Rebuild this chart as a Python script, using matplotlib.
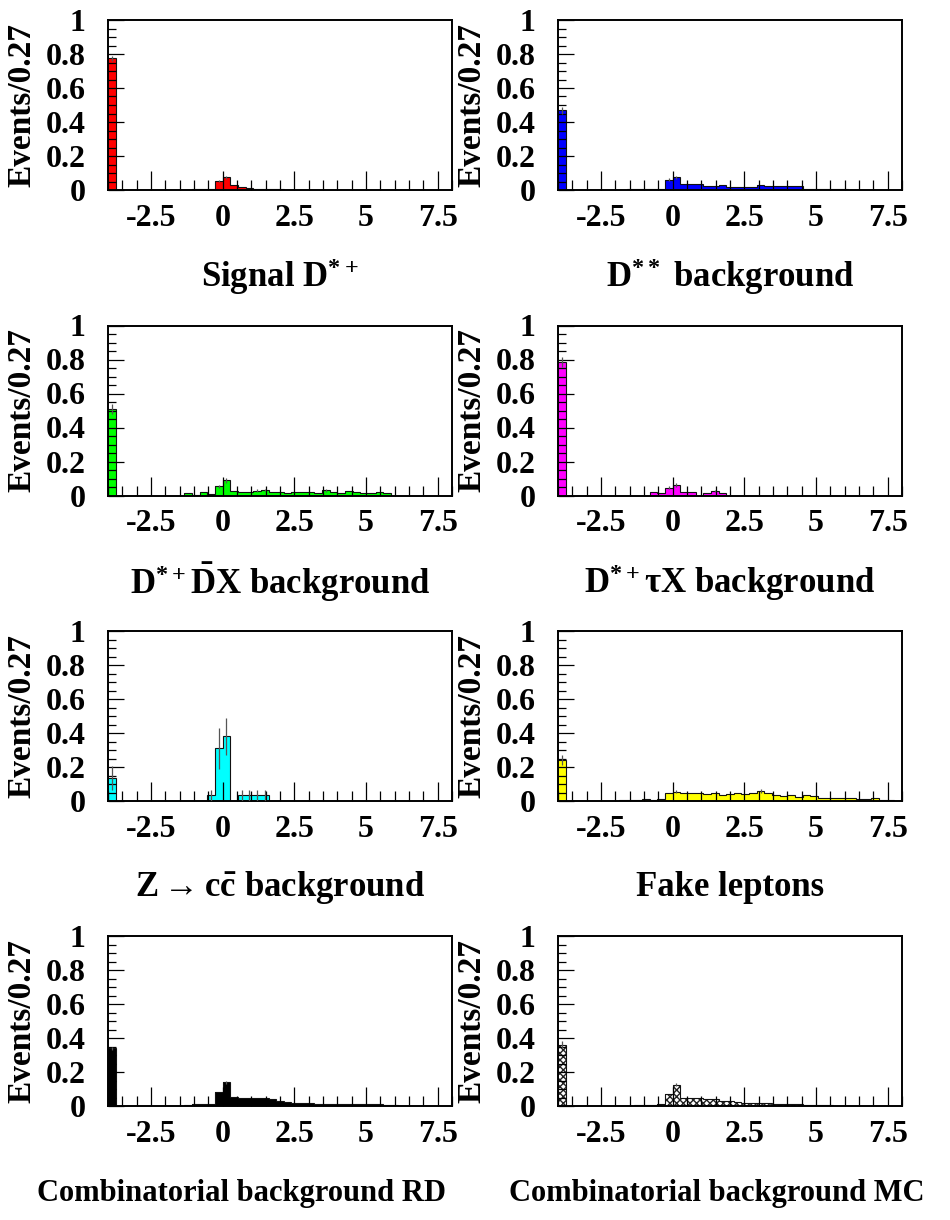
import numpy as np
import matplotlib
matplotlib.use("Agg")
import matplotlib.pyplot as plt
from matplotlib.ticker import MultipleLocator, FuncFormatter

plt.rcParams["font.family"] = ["Liberation Serif", "DejaVu Serif"]
plt.rcParams["font.weight"] = "bold"
plt.rcParams["mathtext.fontset"] = "custom"
plt.rcParams["mathtext.rm"] = "Liberation Serif:bold"
plt.rcParams["mathtext.it"] = "Liberation Serif:bold"
plt.rcParams["mathtext.bf"] = "Liberation Serif:bold"
plt.rcParams["axes.unicode_minus"] = False

# 45 bins from -4 to 8 (width 0.27)
X_MIN, X_MAX, N_BINS = -4.0, 8.0, 45

SIGNAL = [0.775, 0, 0, 0, 0, 0, 0, 0, 0, 0,
          0, 0.003, 0.004, 0.005, 0.053, 0.075, 0.027, 0.018, 0.012, 0.006,
          0.005, 0.003, 0.003, 0, 0, 0, 0, 0, 0, 0,
          0, 0, 0, 0, 0, 0, 0, 0, 0, 0,
          0, 0, 0, 0, 0]
DSS = [0.47, 0, 0, 0, 0, 0, 0, 0, 0.002, 0.003,
       0.004, 0.004, 0.004, 0.005, 0.06, 0.075, 0.034, 0.033, 0.033, 0.026,
       0.025, 0.029, 0.018, 0.018, 0.018, 0.02, 0.027, 0.022, 0.022, 0.022,
       0.022, 0.022, 0.008, 0.006, 0.006, 0.005, 0.004, 0.003, 0.002, 0,
       0, 0, 0, 0, 0]
DDX = [0.51, 0, 0, 0, 0, 0, 0, 0, 0, 0,
       0.012, 0.004, 0.018, 0.008, 0.053, 0.09, 0.024, 0.022, 0.018, 0.029,
       0.033, 0.018, 0.022, 0.016, 0.018, 0.022, 0.018, 0.012, 0.031, 0.022,
       0.014, 0.024, 0.018, 0.014, 0.012, 0.018, 0.012, 0, 0, 0,
       0, 0, 0, 0, 0]
TAUX = [0.785, 0, 0, 0, 0, 0, 0, 0, 0, 0,
        0, 0, 0.02, 0.012, 0.047, 0.063, 0.02, 0.02, 0, 0.012,
        0.027, 0.012, 0, 0, 0, 0, 0, 0, 0, 0,
        0, 0, 0, 0, 0, 0, 0, 0, 0, 0,
        0, 0, 0, 0, 0]
ZCC = [0.135, 0, 0, 0, 0, 0, 0, 0, 0, 0,
       0, 0, 0, 0.033, 0.31, 0.38, 0, 0.033, 0.033, 0.033,
       0.033, 0, 0, 0, 0, 0, 0, 0, 0, 0,
       0, 0, 0, 0, 0, 0, 0, 0, 0, 0,
       0, 0, 0, 0, 0]
FAKE = [0.24, 0, 0, 0, 0, 0, 0, 0, 0.003, 0.005,
        0.008, 0.01, 0.008, 0.01, 0.05, 0.055, 0.05, 0.05, 0.045, 0.04,
        0.05, 0.035, 0.04, 0.045, 0.04, 0.045, 0.06, 0.045, 0.035, 0.03,
        0.035, 0.025, 0.035, 0.03, 0.02, 0.015, 0.02, 0.015, 0.015, 0.01,
        0.01, 0.015, 0.008, 0.005, 0]
COMB_RD = [0.34, 0, 0, 0, 0, 0, 0, 0, 0, 0,
           0.008, 0.01, 0.01, 0.01, 0.085, 0.14, 0.052, 0.05, 0.05, 0.048,
           0.045, 0.04, 0.03, 0.025, 0.02, 0.015, 0.015, 0.014, 0.013, 0.012,
           0.012, 0.012, 0.012, 0.012, 0.01, 0.01, 0.008, 0.003, 0, 0,
           0, 0, 0, 0, 0]
COMB_MC = [0.36, 0, 0, 0, 0, 0, 0, 0, 0, 0,
           0.004, 0.006, 0.008, 0.01, 0.07, 0.125, 0.05, 0.045, 0.048, 0.042,
           0.04, 0.032, 0.028, 0.022, 0.02, 0.018, 0.015, 0.015, 0.013, 0.012,
           0.01, 0.01, 0.008, 0.008, 0.006, 0.004, 0, 0, 0, 0,
           0, 0, 0, 0, 0]

# errors on the visible bins {bin index: error}
SIGNAL_ERR = {0: 0.015, 14: 0.008, 15: 0.01}
DSS_ERR = {0: 0.02, 14: 0.008, 15: 0.01}
DDX_ERR = {0: 0.03, 14: 0.01, 15: 0.015, 19: 0.008, 20: 0.008, 28: 0.008}
TAUX_ERR = {0: 0.03, 14: 0.01, 15: 0.012, 20: 0.008}
ZCC_ERR = {0: 0.07, 13: 0.033, 14: 0.12, 15: 0.11, 17: 0.033, 18: 0.033,
           19: 0.033, 20: 0.033}
FAKE_ERR = {0: 0.03, 15: 0.01, 26: 0.01}
COMB_RD_ERR = {0: 0.01, 15: 0.008}
COMB_MC_ERR = {0: 0.02, 15: 0.01}

TITLES = [
    r"Signal D$^{*+}$",
    r"D$^{**}$ background",
    r"D$^{*+}\bar{\mathrm{D}}$X background",
    r"D$^{*+}\tau$X background",
    r"Z$\rightarrow$c$\bar{\mathrm{c}}$ background",
    "Fake leptons",
    "Combinatorial background RD",
    "Combinatorial background MC",
]
SERIES = [SIGNAL, DSS, DDX, TAUX, ZCC, FAKE, COMB_RD, COMB_MC]
ERRORS = [SIGNAL_ERR, DSS_ERR, DDX_ERR, TAUX_ERR, ZCC_ERR, FAKE_ERR,
          COMB_RD_ERR, COMB_MC_ERR]
COLORS = ["#ff0000", "#0000ff", "#00ff00", "#ff00ff", "#00ffff", "#ffff00",
          "#000000", "white"]

W, H = 950, 1220
fig = plt.figure(figsize=(W / 100, H / 100), dpi=100)

edges = np.linspace(X_MIN, X_MAX, N_BINS + 1)
centers = 0.5 * (edges[:-1] + edges[1:])

ax_left_px = [108, 558]
ax_top_px = [20, 325.5, 631, 936]
ax_w_px, ax_h_px = 344, 170

fmt = FuncFormatter(lambda v, p: "%g" % round(v, 3))

for k, (vals, errs, color, title) in enumerate(zip(SERIES, ERRORS, COLORS, TITLES)):
    row, col = divmod(k, 2)
    left = ax_left_px[col] / W
    bottom = 1 - (ax_top_px[row] + ax_h_px) / H
    ax = fig.add_axes([left, bottom, ax_w_px / W, ax_h_px / H])

    vals = np.array(vals)
    if k == 7:
        ax.stairs(vals, edges, fill=True, facecolor="white", edgecolor="#222222",
                  hatch="xxxxx", linewidth=0)
    else:
        ax.stairs(vals, edges, fill=True, color=color, linewidth=0)
    ax.stairs(vals, edges, color="#111111", linewidth=0.8, baseline=None)
    for i, e in errs.items():
        ax.vlines(centers[i], vals[i] - e, vals[i] + e, color="#555555",
                  linewidth=0.9, zorder=3)

    ax.set_xlim(X_MIN, X_MAX)
    ax.set_ylim(0, 1)
    ax.xaxis.set_major_locator(MultipleLocator(2.5))
    ax.xaxis.set_minor_locator(MultipleLocator(0.5))
    ax.yaxis.set_major_locator(MultipleLocator(0.2))
    ax.yaxis.set_minor_locator(MultipleLocator(0.05))
    ax.xaxis.set_major_formatter(fmt)
    ax.yaxis.set_major_formatter(fmt)
    ax.tick_params(which="both", direction="in", top=False, right=False,
                   width=0.9, labelsize=23)
    ax.tick_params(axis="x", which="major", length=14, pad=10)
    ax.tick_params(axis="x", which="minor", length=7)
    ax.tick_params(axis="y", which="major", length=11.5, pad=16)
    ax.tick_params(axis="y", which="minor", length=6)
    for lab in ax.get_xticklabels() + ax.get_yticklabels():
        lab.set_fontweight("bold")
    for sp in ax.spines.values():
        sp.set_linewidth(1.4)

    ax.text(-86 / ax_w_px, 0.5, "Events/0.27", transform=ax.transAxes,
            rotation=90, ha="center", va="center", fontsize=24,
            fontweight="bold")
    if row == 3:
        title_x = [0.387, 0.462][col]
        title_size = 22
    else:
        title_x = 0.5
        title_size = 25
    ax.text(title_x, -87 / ax_h_px, title, transform=ax.transAxes,
            ha="center", va="center", fontsize=title_size, fontweight="bold")

fig.savefig("out.png", dpi=100)
